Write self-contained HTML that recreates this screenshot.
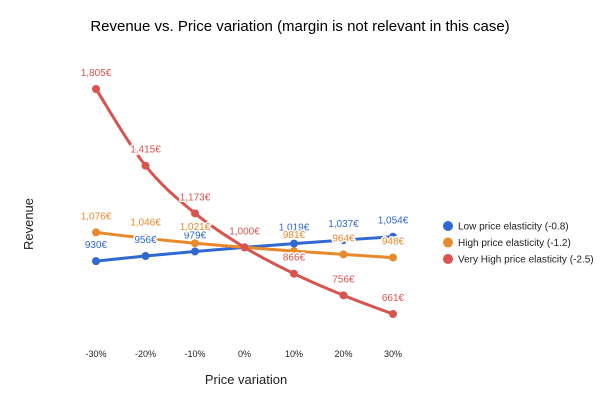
<!DOCTYPE html>
<html><head><meta charset="utf-8"><style>
body{margin:0;background:#fff;}
svg{display:block;font-family:"Liberation Sans",Arial,sans-serif;}
.lbl{font-size:10px;text-anchor:middle;paint-order:stroke;stroke:#fff;stroke-width:3px;stroke-linejoin:round;}
</style></head><body>
<svg id="chart" width="600" height="400">
<text x="300" y="31" font-size="15" text-anchor="middle" fill="#000">Revenue vs. Price variation (margin is not relevant in this case)</text>
<text x="246" y="384" font-size="13" text-anchor="middle" fill="#222">Price variation</text>
<text transform="translate(33,224) rotate(-90)" font-size="13" text-anchor="middle" fill="#222">Revenue</text>
<g id="xticks"></g>
<g id="series"></g>
<g id="labels"></g>
<g id="legend"></g>
</svg>
<script>
const categories=["-30%","-20%","-10%","0%","10%","20%","30%"];
const lowValues=[930,956,979,1000,1019,1037,1054];
const highValues=[1076,1046,1021,1000,981,964,948];
const veryHighValues=[1805,1415,1173,1000,866,756,661];
const seriesNames=["Low price elasticity (-0.8)","High price elasticity (-1.2)","Very High price elasticity (-2.5)"];
const colors=["#3069d1","#e8892b","#d9534f"];
const NS="http://www.w3.org/2000/svg";
function xPos(i){return 96+i*49.5;}
function yPos(v){return 89+(1805-v)*0.1967;}
function mk(tag,attrs,parent){const e=document.createElementNS(NS,tag);for(const k in attrs)e.setAttribute(k,attrs[k]);parent.appendChild(e);return e;}
const xt=document.getElementById('xticks');
categories.forEach((c,i)=>{const t=mk('text',{x:xPos(i),y:357,'font-size':9,'text-anchor':'middle',fill:'#222'},xt);t.textContent=c;

});
const sg=document.getElementById('series'),lg=document.getElementById('labels');
function smooth(p){let d=`M${p[0][0]},${p[0][1]}`;for(let i=0;i<p.length-1;i++){const p0=p[i-1]||p[i],p1=p[i],p2=p[i+1],p3=p[i+2]||p2;
d+=` C${p1[0]+(p2[0]-p0[0])/6},${p1[1]+(p2[1]-p0[1])/6} ${p2[0]-(p3[0]-p1[0])/6},${p2[1]-(p3[1]-p1[1])/6} ${p2[0]},${p2[1]}`;}return d;}
[lowValues,highValues,veryHighValues].forEach((vals,s)=>{
const pts=vals.map((v,i)=>[xPos(i),yPos(v)]);
const path=mk('path',{d:smooth(pts),fill:'none',stroke:colors[s],'stroke-width':3},sg);


pts.forEach((p,i)=>{const c=mk('circle',{cx:p[0],cy:p[1],r:4,fill:colors[s]},sg);


const t=mk('text',{x:p[0],y:p[1]-13,class:'lbl',fill:colors[s]},lg);t.textContent=vals[i].toLocaleString('en-US')+'€';

});});
const leg=document.getElementById('legend');
seriesNames.forEach((n,s)=>{const y=226+s*16.5;
const c=mk('circle',{cx:448,cy:y,r:5,fill:colors[s]},leg);


const t=mk('text',{x:458,y:y+3.5,'font-size':10,fill:'#222'},leg);t.textContent=n;

});
</script>
</body></html>
